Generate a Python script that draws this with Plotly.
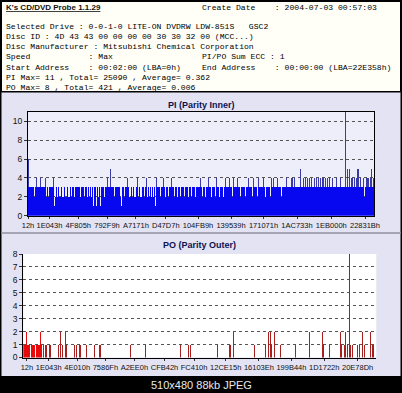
import plotly.graph_objects as go

W, H = 402, 393

# ---------------- data ----------------
PI_VALUES = [
    6, 3, 3, 3, 3, 3, 2, 3, 4, 3,  3, 3, 4, 3, 3, 3, 3, 4, 2, 3,
    2, 3, 3, 3, 3, 4, 1, 2, 3, 2,  3, 2, 2, 3, 2, 2, 3, 2, 2, 3,
    2, 2, 3, 2, 3, 3, 2, 3, 3, 3,  3, 3, 2, 3, 3, 3, 2, 3, 3, 2,
    3, 2, 3, 2, 3, 1, 3, 3, 1, 3,  2, 3, 1, 3, 3, 3, 2, 3, 3, 4,
    3, 3, 5, 3, 3, 3, 2, 3, 3, 3,  3, 3, 2, 1, 3, 3, 2, 3, 3, 4,
    3, 2, 2, 3, 2, 3, 2, 2, 3, 4,  2, 3, 2, 2, 3, 3, 2, 3, 4, 2,
    3, 2, 3, 2, 3, 2, 3, 1, 4, 3,  3, 3, 2, 3, 3, 4, 3, 2, 3, 3,
    2, 3, 3, 4, 3, 3, 2, 3, 3, 2,  3, 3, 2, 3, 3, 3, 2, 3, 3, 3,
    2, 3, 3, 2, 3, 3, 3, 2, 3, 3,  3, 3, 4, 3, 2, 3, 3, 2, 3, 3,
    4, 3, 3, 2, 3, 3, 3, 2, 4, 3,  3, 2, 3, 3, 3, 2, 3, 4, 3, 3,
    3, 4, 3, 3, 2, 4, 3, 3, 3, 4,  3, 3, 2, 3, 3, 3, 3, 2, 3, 3,
    4, 3, 3, 3, 2, 4, 3, 3, 3, 2,  4, 3, 3, 3, 3, 4, 3, 2, 3, 3,
    3, 3, 2, 4, 3, 4, 3, 3, 3, 4,  3, 3, 3, 2, 3, 3, 3, 3, 4, 3,
    3, 3, 3, 4, 4, 3, 4, 3, 3, 3,  3, 3, 5, 3, 3, 4, 3, 4, 3, 4,
    3, 4, 3, 4, 3, 3, 4, 3, 4, 3,  4, 3, 4, 3, 4, 4, 3, 4, 3, 4,
    3, 4, 3, 3, 4, 3, 3, 3, 4, 3,  3, 3, 4, 3, 3, 3, 3, 11, 3, 5,
    3, 5, 3, 4, 4, 3, 4, 3, 4, 5,  5, 3, 4, 3, 3, 4, 2, 3, 4, 4,
    4, 3, 4, 5, 3, 4,
]
PI_TICK_TEXT = ["12h", "1E043h", "4F805h", "792F9h", "A7171h", "D47D7h",
                "104FB9h", "139539h", "171071h", "1AC733h", "1EB000h", "22831Bh"]
PI_TICK_POS = [-0.5, 20.9, 49.8, 78.5, 107.4, 137.3, 169.5, 202.5, 235.0, 268.5, 302.8, 336.5]

PO_LENGTH = 353
PO_DENSE = [1, 1, 1, 2, 1, 1, 1, 0, 1, 1, 1, 1, 0, 1, 1, 1, 1, 2, 1]
PO_INDEX = [20, 22, 23, 26, 27, 35, 37, 39, 42, 43, 51, 53, 56, 57, 63,
            71, 76, 77, 107, 122, 157, 165, 167, 194, 206, 207, 210, 231, 242, 245,
            247, 248, 251, 257, 272, 286, 299, 300, 306, 317, 318, 321, 322, 324, 326,
            327, 329, 334, 336, 339, 341, 347, 349, 350]
PO_VALUES = [1, 1, 1, 1, 1, 1, 2, 1, 2, 1, 1, 1, 1, 1, 1,
             1, 1, 1, 1, 1, 1, 1, 1, 1, 1, 1, 2, 1, 1, 2,
             2, 1, 2, 1, 1, 2, 2, 1, 1, 2, 1, 1, 2, 1, 8,
             1, 1, 1, 1, 2, 1, 2, 1, 1]
PO_TICK_TEXT = ["12h", "1E043h", "4E010h", "7586Fh", "A2EE0h", "CFB42h",
                "FC410h", "12CE15h", "16103Eh", "199B44h", "1D1722h", "20E78Dh"]
PO_TICK_POS = [3.1, 24.9, 53.4, 81.6, 110.6, 140.7, 170.3, 201.9, 235.1, 267.6, 300.4, 333.8]

HEADER_TITLE = "K's CD/DVD Probe 1.1.29"
HEADER_LEFT = [
    "Selected Drive : 0-0-1-0 LITE-ON DVDRW LDW-851S   GSC2",
    "Disc ID : 4D 43 43 00 00 00 00 30 30 32 00 (MCC...)",
    "Disc Manufacturer : Mitsubishi Chemical Corporation",
    "Speed            : Max",
    "Start Address    : 00:02:00 (LBA=0h)",
    "PI Max= 11 , Total= 25090 , Average= 0.362",
    "PO Max= 8 , Total= 421 , Average= 0.006",
]
HEADER_RIGHT = [
    ("Create Date    : 2004-07-03 00:57:03", 0),
    ("PI/PO Sum ECC : 1", 4),
    ("End Address    : 00:00:00 (LBA=22E358h)", 5),
]
FOOTER = "510x480 88kb JPEG"

# ---------------- derived series ----------------
pi_x = list(range(len(PI_VALUES)))
pi_base = [min(v, 3) for v in PI_VALUES]
pi_top = [v - b for v, b in zip(PI_VALUES, pi_base)]

po_y = [0] * PO_LENGTH
for i, v in enumerate(PO_DENSE):
    po_y[i] = v
for i, v in zip(PO_INDEX, PO_VALUES):
    po_y[i] = v
po_x = list(range(PO_LENGTH))
po_colors = ["#e80a0a" if i < len(PO_DENSE) else "#a62020" for i in po_x]


def fx(px):
    return px / W


def fy(py):
    return 1 - py / H


fig = go.Figure()
fig.add_trace(go.Bar(x=pi_x, y=pi_base, marker=dict(color="#0808f0", line=dict(width=0)),
                     xaxis="x", yaxis="y", hoverinfo="skip"))
fig.add_trace(go.Bar(x=pi_x, y=pi_top, marker=dict(color="#3a3aa8", line=dict(width=0)),
                     xaxis="x", yaxis="y", hoverinfo="skip"))
fig.add_trace(go.Bar(x=po_x, y=po_y, marker=dict(color=po_colors, line=dict(width=0)),
                     xaxis="x2", yaxis="y2", hoverinfo="skip"))

xtickfont = dict(family="Liberation Sans, Arial", size=7.5, color="#111111")
ytickfont = dict(family="Liberation Sans, Arial", size=8.5, color="#111111")
grid = dict(showgrid=True, gridcolor="#555555", gridwidth=1, griddash="dot")

PI_X = (28, 374)
PI_Y = (112, 215.7)
PO_X = (23.3, 376.3)
PO_Y = (254, 357.5)

common = dict(automargin=False, fixedrange=True, zeroline=False, tickcolor="#333")

layout_axes = dict(
    xaxis=dict(domain=[fx(PI_X[0]), fx(PI_X[1])], range=[-0.5, len(PI_VALUES) - 0.5],
               tickvals=PI_TICK_POS, ticktext=PI_TICK_TEXT, ticks="outside", ticklen=2,
               tickangle=0, showline=True, linecolor="#000", linewidth=1, mirror=True,
               showgrid=False, tickfont=xtickfont, anchor="y", **common),
    yaxis=dict(domain=[fy(PI_Y[1]), fy(PI_Y[0])], range=[0, 11], tickvals=[0, 2, 4, 6, 8, 10],
               ticks="outside", ticklen=3, showline=True, linecolor="#000",
               linewidth=1, mirror=True, tickfont=ytickfont, anchor="x", **grid, **common),
    yaxis3=dict(domain=[fy(PI_Y[1]), fy(PI_Y[0])], range=[0, 11], tickvals=[0, 2, 4, 6, 8, 10],
                overlaying="y", side="right", anchor="x", ticks="outside", ticklen=3,
                showline=False, showgrid=False, tickfont=ytickfont, **common),
    xaxis2=dict(domain=[fx(PO_X[0]), fx(PO_X[1])], range=[-0.5, PO_LENGTH - 0.5],
                tickvals=PO_TICK_POS, ticktext=PO_TICK_TEXT, ticks="outside", ticklen=2,
                tickangle=0, showline=True, linecolor="#000", linewidth=1, mirror=False,
                showgrid=False, tickfont=xtickfont, anchor="y2", **common),
    yaxis2=dict(domain=[fy(PO_Y[1]), fy(PO_Y[0])], range=[0, 8], tickvals=list(range(9)),
                ticks="outside", ticklen=3, showline=True, linecolor="#000",
                linewidth=1, mirror=False, tickfont=ytickfont, anchor="x2", **grid, **common),
    yaxis4=dict(domain=[fy(PO_Y[1]), fy(PO_Y[0])], range=[0, 8], tickvals=list(range(9)),
                overlaying="y2", side="right", anchor="x2", ticks="outside", ticklen=3,
                showline=True, linecolor="#000", linewidth=1,
                showgrid=False, tickfont=ytickfont, **common),
)

shapes = [
    dict(type="rect", xref="paper", yref="paper", x0=fx(1.5), x1=fx(400.5), y0=fy(91.5), y1=fy(1.5),
         fillcolor="#fffff8", line=dict(color="#000", width=1), layer="below"),
    dict(type="rect", xref="paper", yref="paper", x0=fx(1.5), x1=fx(400.5), y0=fy(376), y1=fy(92.5),
         fillcolor="#e3e3f3", line=dict(width=0), layer="below"),
    dict(type="line", xref="paper", yref="paper", x0=fx(1.5), x1=fx(400.5), y0=fy(233), y1=fy(233),
         line=dict(color="#a4a4b4", width=2), layer="below"),
    dict(type="rect", xref="x domain", yref="y domain", x0=0, x1=1, y0=0, y1=1,
         fillcolor="#eeeefb", line=dict(width=0), layer="below"),
    dict(type="rect", xref="x2 domain", yref="y2 domain", x0=0, x1=1, y0=0, y1=1,
         fillcolor="#ffffff", line=dict(width=0), layer="below"),
]

mono = dict(family="Liberation Mono, DejaVu Sans Mono, monospace", size=8.1, color="#000000")
NB = "\u00a0"
annotations = [
    dict(text="<b><u>" + HEADER_TITLE + "</u></b>", x=fx(4), y=fy(8), xref="paper", yref="paper",
         xanchor="left", yanchor="middle", showarrow=False,
         font=dict(family="Liberation Sans, Arial", size=8, color="#111")),
]
for k, line in enumerate(HEADER_LEFT):
    annotations.append(dict(text=line.replace(" ", NB), x=fx(4), y=fy(26 + 10.3 * k),
                            xref="paper", yref="paper", xanchor="left", yanchor="middle",
                            showarrow=False, font=mono))
for line, row in HEADER_RIGHT:
    yy = 8 if row == 0 else 26 + 10.3 * (row - 1)
    annotations.append(dict(text=line.replace(" ", NB), x=fx(200), y=fy(yy),
                            xref="paper", yref="paper", xanchor="left", yanchor="middle",
                            showarrow=False, font=mono))
annotations += [
    dict(text="<b>PI (Parity Inner)</b>", x=fx(201), y=fy(104.5), xref="paper", yref="paper",
         showarrow=False, xanchor="center", yanchor="middle",
         font=dict(family="Liberation Sans, Arial", size=9, color="#101050")),
    dict(text="<b>PO (Parity Outer)</b>", x=fx(199), y=fy(245.5), xref="paper", yref="paper",
         showarrow=False, xanchor="center", yanchor="middle",
         font=dict(family="Liberation Sans, Arial", size=9, color="#101050")),
    dict(text=FOOTER, x=fx(201), y=fy(384.5), xref="paper", yref="paper",
         showarrow=False, xanchor="center", yanchor="middle",
         font=dict(family="Liberation Sans, Arial", size=11, color="#e8e8e8")),
]

fig.update_layout(
    width=W, height=H, margin=dict(l=0, r=0, t=0, b=0, pad=0),
    paper_bgcolor="#000000", plot_bgcolor="rgba(0,0,0,0)",
    barmode="stack", bargap=0, showlegend=False,
    shapes=shapes, annotations=annotations, **layout_axes,
)

fig.write_html(
    "out.html",
    config={"displayModeBar": False, "staticPlot": True},
    post_script="document.body.style.margin='0';document.body.style.overflow='hidden';",
)
